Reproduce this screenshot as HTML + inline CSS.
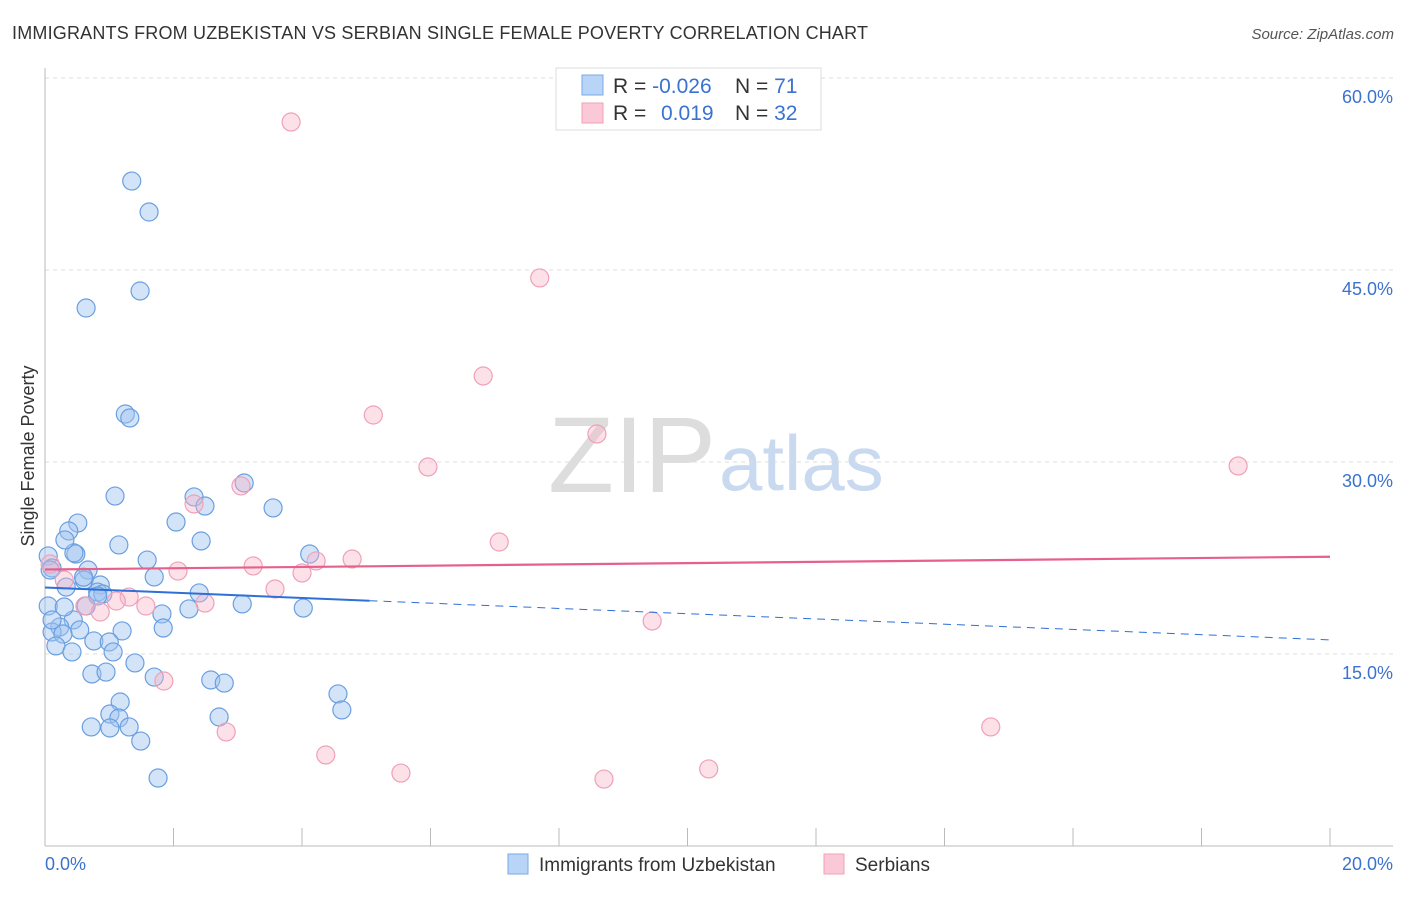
<!DOCTYPE html>
<html><head><meta charset="utf-8"><style>
body{margin:0;background:#fff;font-family:"Liberation Sans",sans-serif;}
svg text{font-family:"Liberation Sans",sans-serif;}
</style></head><body>
<svg id="chart" width="1406" height="892" viewBox="0 0 1406 892">
<text x="12" y="39" font-size="18" fill="#333" textLength="856" lengthAdjust="spacing">IMMIGRANTS FROM UZBEKISTAN VS SERBIAN SINGLE FEMALE POVERTY CORRELATION CHART</text>
<text x="1394" y="39" font-size="15" fill="#555" font-style="italic" text-anchor="end">Source: ZipAtlas.com</text>
<text x="716" y="492" font-size="108" fill="#ddd" font-family="Liberation Serif" text-anchor="end">ZIP</text>
<text x="719" y="490" font-size="78" fill="#c9d9ef">atlas</text>
<g id="grid"></g>
<g id="axes"></g>
<g id="marks"></g>
<g id="trends"></g>
<text transform="translate(34,456) rotate(-90)" font-size="18" fill="#333" text-anchor="middle">Single Female Poverty</text>
<g>
<rect x="556" y="68" width="265" height="62" fill="#fff" stroke="#ddd"/>
<rect x="582" y="75" width="21" height="20" fill="#b8d4f6" stroke="#7aaae6"/>
<rect x="582" y="103" width="21" height="20" fill="#fbc8d8" stroke="#f0a0b8"/>
<text x="613" y="93" font-size="21" fill="#333">R = <tspan fill="#3a72d0">-0.026</tspan></text>
<text x="735" y="93" font-size="21" fill="#333">N = <tspan fill="#3a72d0"> 71</tspan></text>
<text x="613" y="120" font-size="21" fill="#333">R = <tspan fill="#3a72d0" x="661">0.019</tspan></text>
<text x="735" y="120" font-size="21" fill="#333">N = <tspan fill="#3a72d0">32</tspan></text>
</g>
<g>
<rect x="508" y="854" width="20" height="20" fill="#b8d4f6" stroke="#7aaae6"/>
<text x="539" y="871" font-size="19" fill="#333">Immigrants from Uzbekistan</text>
<rect x="824" y="854" width="20" height="20" fill="#fbc8d8" stroke="#f0a0b8"/>
<text x="855" y="871" font-size="19" fill="#333">Serbians</text>
</g>
</svg>
<script>
const yTicks=[15,30,45,60];
const yTickLabels=["15.0%","30.0%","45.0%","60.0%"];
const xTickLabels=["0.0%","20.0%"];
const blueX=[1.35,1.62,1.48,0.64,1.25,1.32,1.09,2.32,2.49,3.10,3.55,2.04,0.51,0.37,2.43,1.15,0.48,0.45,1.59,4.12,0.05,0.11,0.67,1.70,0.61,0.86,0.33,0.82,0.90,2.40,0.05,0.64,3.07,4.02,2.24,1.82,0.44,0.23,0.54,1.20,1.84,0.11,0.28,0.17,0.76,1.00,0.42,1.06,1.40,0.73,0.95,1.70,2.58,2.79,4.56,4.62,1.17,1.01,1.15,2.71,0.72,1.01,1.31,1.49,1.76,0.08,0.30,0.82,0.31,0.11,0.60];
const blueY=[51.95,49.53,43.36,42.03,33.75,33.44,27.34,27.27,26.56,28.36,26.41,25.31,25.23,24.61,23.83,23.52,22.81,22.9,22.34,22.81,22.66,21.72,21.56,21.02,20.78,20.39,20.23,19.84,19.69,19.77,18.75,18.75,18.91,18.59,18.52,18.13,17.66,17.11,16.88,16.80,17.03,16.72,16.56,15.63,16.02,15.94,15.16,15.16,14.30,13.44,13.59,13.20,12.97,12.73,11.88,10.63,11.25,10.31,10.00,10.08,9.30,9.22,9.30,8.20,5.31,21.56,18.67,19.53,23.91,17.66,21.0];
const pinkX=[3.83,7.70,6.82,5.11,8.59,5.96,18.57,3.05,2.32,7.07,4.78,3.24,4.22,2.07,4.00,0.08,0.30,3.58,1.31,1.11,2.49,1.57,0.62,0.86,9.45,1.85,2.82,4.37,5.54,8.70,10.33,14.72];
const pinkY=[56.56,44.38,36.72,33.67,32.19,29.61,29.69,28.13,26.72,23.75,22.42,21.88,22.27,21.48,21.33,22.03,20.78,20.08,19.45,19.14,18.98,18.75,18.75,18.28,17.58,12.89,8.91,7.11,5.70,5.23,6.02,9.30];
const blueTrend=[20.2,16.1];
const pinkTrend=[21.6,22.6];
const NS="http://www.w3.org/2000/svg";
const X0=45,X1=1330,Y0=846,PX_PER_Y=12.8;
function sx(v){return X0+(X1-X0)*v/20;}
function sy(v){return Y0-v*PX_PER_Y;}
function mk(t,a,p){const e=document.createElementNS(NS,t);for(const k in a)e.setAttribute(k,a[k]);p.appendChild(e);return e;}
const grid=document.getElementById('grid'),axes=document.getElementById('axes'),marks=document.getElementById('marks'),trends=document.getElementById('trends');
yTicks.forEach((v,i)=>{
 const l=mk('line',{x1:45,x2:1393,y1:sy(v),y2:sy(v),stroke:'#ddd','stroke-dasharray':'4,4'},grid);
 
 
 const t=mk('text',{x:1393,y:sy(v)+25,'font-size':18,fill:'#3a72d0','text-anchor':'end'},axes);
 t.textContent=yTickLabels[i];
 
 
});
const ax=mk('line',{x1:45,x2:1393,y1:Y0,y2:Y0,stroke:'#bbb'},axes);


const ay=mk('line',{x1:45,x2:45,y1:68,y2:Y0,stroke:'#bbb'},axes);


for(let i=0;i<=10;i++){
 const tk=mk('line',{x1:sx(i*2),x2:sx(i*2),y1:828,y2:Y0,stroke:'#bbb'},axes);
 
 
}
[[0,'start',45],[1,'end',1393]].forEach(([i,a,x])=>{
 const t=mk('text',{x:x,y:870,'font-size':18,fill:'#3a72d0','text-anchor':a},axes);
 t.textContent=xTickLabels[i];
 
 
});
blueX.forEach((v,i)=>{
 const c=mk('circle',{cx:sx(v),cy:sy(blueY[i]),r:9,fill:'rgba(160,196,240,0.45)',stroke:'#6a9fe0','stroke-width':1.2},marks);
 
 
});
pinkX.forEach((v,i)=>{
 const c=mk('circle',{cx:sx(v),cy:sy(pinkY[i]),r:9,fill:'rgba(248,180,200,0.4)',stroke:'#f0a0b8','stroke-width':1.2},marks);
 
 
});
function ty(tr,x){return tr[0]+(tr[1]-tr[0])*x/20;}
const bs=mk('line',{x1:sx(0),y1:sy(ty(blueTrend,0)),x2:sx(5.05),y2:sy(ty(blueTrend,5.05)),stroke:'#2f6fd6','stroke-width':2},trends);


const bd=mk('line',{x1:sx(5.05),y1:sy(ty(blueTrend,5.05)),x2:sx(20),y2:sy(ty(blueTrend,20)),stroke:'#2f6fd6','stroke-width':1,'stroke-dasharray':'8,6'},trends);


const ps=mk('line',{x1:sx(0),y1:sy(pinkTrend[0]),x2:sx(20),y2:sy(pinkTrend[1]),stroke:'#e6608c','stroke-width':2.2},trends);


</script>
</body></html>
